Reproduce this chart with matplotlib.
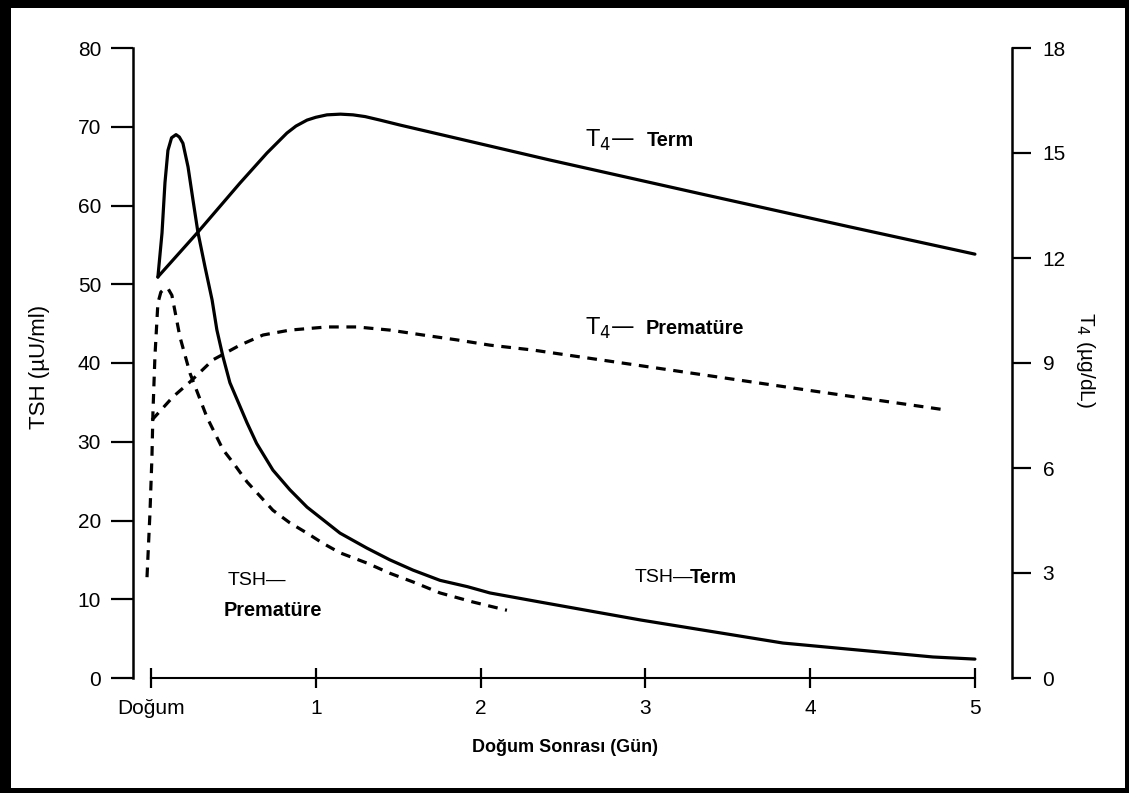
import matplotlib.pyplot as plt
from matplotlib.patches import Rectangle

plt.rcParams['font.family'] = ['Liberation Sans', 'DejaVu Sans']
plt.rcParams['lines.scale_dashes'] = False

# TSH (uU/ml), term newborns
tsh_term_x = [0.042, 0.067, 0.085, 0.103, 0.125, 0.152, 0.172, 0.194, 0.225, 0.255, 0.285, 0.328,
              0.371, 0.40, 0.437, 0.479, 0.583, 0.641, 0.74, 0.843, 0.947, 1.044, 1.147, 1.31,
              1.45, 1.59, 1.754, 1.92, 2.057, 2.36, 2.97, 3.835, 4.745, 5.0]
tsh_term_y = [50.9, 56.5, 62.9, 67.0, 68.6, 69.0, 68.7, 67.9, 64.9, 60.7, 56.6, 52.2,
              48.0, 44.2, 40.8, 37.5, 32.4, 29.8, 26.4, 23.9, 21.7, 20.1, 18.4, 16.5,
              15.0, 13.7, 12.4, 11.6, 10.8, 9.65, 7.37, 4.44, 2.67, 2.4]

# TSH, premature
tsh_pre_x = [-0.024, -0.006, 0.006, 0.012, 0.024, 0.042, 0.06, 0.085, 0.105, 0.127, 0.176, 0.237,
             0.34, 0.437, 0.5, 0.583, 0.74, 0.843, 0.947, 1.044, 1.147, 1.31, 1.45, 1.59,
             1.754, 1.954, 2.16]
tsh_pre_y = [12.8, 21.0, 28.1, 33.7, 40.8, 47.6, 49.0, 49.5, 49.4, 48.6, 43.3, 38.7,
             33.1, 29.0, 27.3, 24.9, 21.3, 19.7, 18.4, 17.1, 15.9, 14.6, 13.3, 12.2,
             10.8, 9.65, 8.6]

# T4 (ug/dL), term
t4_term_x = [0.042, 0.285, 0.54, 0.704, 0.825, 0.88, 0.947, 1.0, 1.068, 1.15, 1.226, 1.3, 1.39,
             1.51, 2.42, 3.33, 4.24, 5.0]
t4_term_y = [11.46, 12.74, 14.14, 15.0, 15.57, 15.77, 15.94, 16.02, 16.09, 16.11, 16.09, 16.04, 15.94,
             15.8, 14.8, 13.84, 12.89, 12.11]

# T4, premature
t4_pre_x = [0.006, 0.133, 0.237, 0.376, 0.54, 0.68, 0.843, 1.068, 1.25, 1.45, 1.65, 1.857,
            2.057, 2.318, 3.02, 4.02, 4.82]
t4_pre_y = [7.37, 8.03, 8.46, 9.09, 9.51, 9.8, 9.94, 10.03, 10.03, 9.94, 9.8, 9.66,
            9.51, 9.37, 8.89, 8.2, 7.66]

x_ticks = [0, 1, 2, 3, 4, 5]
x_labels = ['Doğum', '1', '2', '3', '4', '5']
tsh_ticks = [0, 10, 20, 30, 40, 50, 60, 70, 80]
t4_ticks = [0, 3, 6, 9, 12, 15, 18]

W, H = 1129, 793
fig = plt.figure(figsize=(W / 100, H / 100), dpi=100)
fig.patch.set_facecolor('black')
fig.add_artist(Rectangle((11 / W, 5 / H), 1114 / W, 780 / H, transform=fig.transFigure,
                         facecolor='white', edgecolor='none', zorder=-10))

ax = fig.add_axes([133 / W, 1 - 678 / H, (1012 - 133) / W, 630 / H])
ax.set_facecolor('none')
ax2 = ax.twinx()

ax.set_xlim(-0.109, 5.225)
ax.set_ylim(0, 80)
ax2.set_ylim(0, 18)

lw = 2.3
ax.plot(tsh_term_x, tsh_term_y, color='black', lw=lw, solid_joinstyle='round', solid_capstyle='round')
ax.plot(tsh_pre_x, tsh_pre_y, color='black', lw=lw, dashes=(7, 5.5))
ax2.plot(t4_term_x, t4_term_y, color='black', lw=lw, solid_joinstyle='round', solid_capstyle='round')
ax2.plot(t4_pre_x, t4_pre_y, color='black', lw=lw, dashes=(7, 5.5))

# spines
for s in ['top', 'right']:
    ax.spines[s].set_visible(False)
for s in ['top', 'left', 'bottom']:
    ax2.spines[s].set_visible(False)
ax.spines['left'].set_linewidth(1.8)
ax.spines['bottom'].set_linewidth(1.5)
ax.spines['bottom'].set_bounds(0, 5)
ax2.spines['right'].set_linewidth(1.8)

ax.set_yticks(tsh_ticks)
ax.tick_params(axis='y', direction='out', length=16, width=1.6, pad=7, labelsize=15)
ax2.set_yticks(t4_ticks)
ax2.tick_params(axis='y', direction='out', length=14, width=1.6, pad=8, labelsize=15)
ax.set_xticks(x_ticks)
ax.set_xticklabels(x_labels)
ax.tick_params(axis='x', direction='inout', length=14, width=1.6, pad=8, labelsize=15)

# curve labels
fs = 14.3
ax.text(2.633, 68.3, 'T$_4$—', fontsize=17, va='center', ha='left')
ax.text(3.01, 68.3, 'Term', fontsize=fs, fontweight='bold', va='center', ha='left')
ax.text(2.633, 44.4, 'T$_4$—', fontsize=17, va='center', ha='left')
ax.text(3.0, 44.4, 'Prematüre', fontsize=fs, fontweight='bold', va='center', ha='left')
ax.text(0.467, 12.4, 'TSH—', fontsize=14, va='center', ha='left')
ax.text(0.443, 8.6, 'Prematüre', fontsize=fs, fontweight='bold', va='center', ha='left')
ax.text(2.937, 12.7, 'TSH—', fontsize=14, va='center', ha='left')
ax.text(3.27, 12.7, 'Term', fontsize=fs, fontweight='bold', va='center', ha='left')

# axis labels
fig.text(40 / W, 1 - 367 / H, 'TSH (µU/ml)', rotation=90, fontsize=16, ha='center', va='center')
fig.text(1085 / W, 1 - 360 / H, 'T$_4$ (µg/dL)', rotation=270, fontsize=15, ha='center', va='center')
fig.text(565 / W, 1 - 748 / H, 'Doğum Sonrası (Gün)', fontsize=13, fontweight='bold',
         ha='center', va='center')

fig.savefig('out.png', dpi=100)
